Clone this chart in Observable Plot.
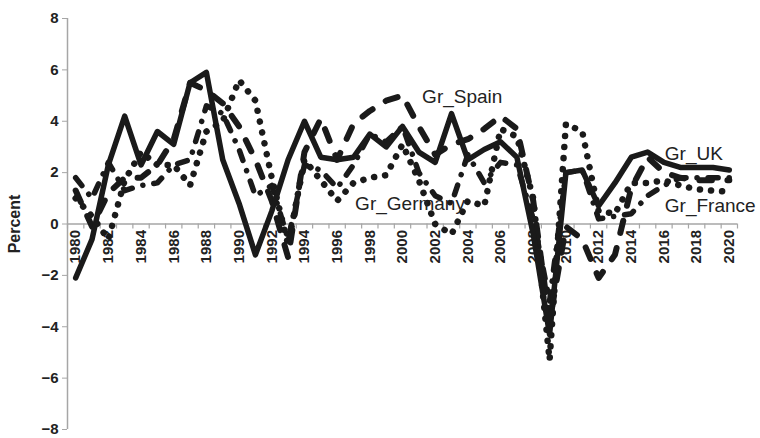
<!DOCTYPE html>
<html><head><meta charset="utf-8">
<script src="https://cdn.jsdelivr.net/npm/d3@7"></script>
<script src="https://cdn.jsdelivr.net/npm/@observablehq/plot@0.6"></script>
<style>body{margin:0;background:#fff;} #chart{width:760px;height:438px;}</style>
</head><body><div id="chart"></div>
<script>
const years = d3.range(1980, 2021);
const grUK = [-2.1,-0.6,2.3,4.2,2.3,3.6,3.1,5.5,5.9,2.5,
  0.8,-1.2,0.5,2.5,4.0,2.6,2.5,2.6,3.5,3.0,
  3.8,2.8,2.4,4.3,2.5,2.9,3.2,2.6,-0.4,-4.3,
  2.0,2.1,0.7,1.6,2.6,2.8,2.4,2.2,2.2,2.2,
  2.1];
const grSpain = [1.3,-0.1,1.2,1.8,1.8,2.3,3.3,5.5,5.2,4.7,
  3.8,2.5,0.9,-1.3,2.8,4.1,2.5,3.9,4.4,4.8,
  5.0,3.8,2.7,3.1,3.3,3.7,4.2,3.7,0.9,-3.8,
  -0.1,-0.6,-2.1,-1.2,1.4,2.6,2.0,1.8,1.7,1.7,
  1.7];
const grGermany = [1.0,0.3,-0.6,1.7,2.8,2.3,2.3,1.5,3.6,4.0,
  5.6,4.8,1.8,-0.8,2.5,1.7,0.9,1.6,1.8,1.9,
  3.1,1.7,0.0,-0.4,0.9,0.7,3.7,3.4,1.0,-5.3,
  3.9,3.6,0.5,0.4,1.6,1.6,1.7,1.5,1.35,1.3,
  1.25];
const grFrance = [1.8,1.0,2.4,1.3,1.5,1.6,2.3,2.5,4.6,4.3,
  2.9,1.1,1.5,-0.6,2.3,2.1,1.4,2.3,3.5,3.2,
  3.8,2.0,1.1,0.8,2.7,1.6,2.4,2.3,0.2,-3.0,
  2.0,2.1,0.2,0.3,0.4,1.1,1.5,1.8,1.8,1.8,
  1.8];
const tickYears = d3.range(1980, 2021, 2);
const yTicks = [-8,-6,-4,-2,0,2,4,6,8];
const seriesNames = ["Gr_Spain","Gr_Germany","Gr_UK","Gr_France"];
const labelYears = [2001.2, 1997.1, 2016.05, 2016.05];
const labelValues = [4.96, 0.8, 2.73, 0.69];

const toRows = (vals) => vals.map((v, i) => ({year: years[i], value: v}));
const labels = seriesNames.map((n, i) => ({name: n, year: labelYears[i], value: labelValues[i]}));

const ink = "#1a1a1a";
const grey = "#a6a6a6";
const lineBase = {x: "year", y: "value", stroke: ink, strokeLinejoin: "round", strokeLinecap: "round"};

const chart = Plot.plot({
  width: 760, height: 438,
  marginTop: 18, marginBottom: 9, marginLeft: 67, marginRight: 23,
  x: {domain: [1979.5, 2020.5], axis: null},
  y: {domain: [-8, 8], axis: null},
  style: {fontFamily: "'Liberation Sans', Arial, sans-serif", background: "#fff", color: "#222"},
  marks: [
    Plot.ruleY([0], {stroke: grey, strokeWidth: 1.5}),
    Plot.ruleX(d3.range(1979.5, 2021, 1), {x: d => d, y1: 0, y2: 0, insetBottom: -5, stroke: grey, strokeWidth: 1.2}),
    Plot.ruleX([1979.5], {stroke: grey, strokeWidth: 1.5}),
    Plot.axisY({ticks: yTicks, tickSize: 5, stroke: grey, fill: "#222", fontWeight: "bold", fontSize: 15, tickPadding: 4, label: null}),
    Plot.text(tickYears, {x: d => d, y: 0, text: d => String(d), rotate: -90, textAnchor: "end", dy: 6, fontWeight: "bold", fontSize: 15, fill: "#222"}),
    Plot.line(toRows(grFrance), {...lineBase, strokeWidth: 5.5, strokeDasharray: "10,11,0.1,11"}),
    Plot.line(toRows(grGermany), {...lineBase, strokeWidth: 6.5, strokeDasharray: "0.1,11"}),
    Plot.line(toRows(grSpain), {...lineBase, strokeWidth: 6, strokeDasharray: "12.5,15.5"}),
    Plot.line(toRows(grUK), {...lineBase, strokeWidth: 5.5}),
    Plot.text(labels, {x: "year", y: "value", text: "name", textAnchor: "start", fontSize: 19, fill: "#222"}),
    Plot.text(["Percent"], {text: d => d, frameAnchor: "left", textAnchor: "middle", dx: -53, rotate: -90, fontWeight: "bold", fontSize: 16, fill: "#222"})
  ]
});
document.getElementById("chart").appendChild(chart);
</script>
</body></html>
